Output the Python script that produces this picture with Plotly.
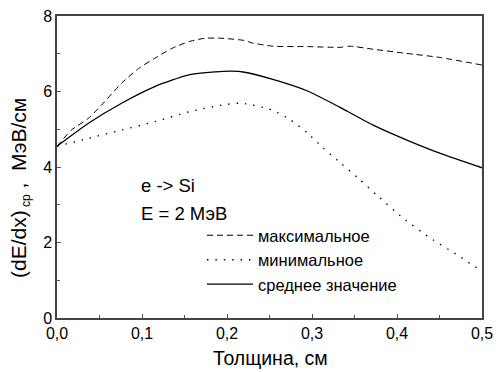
import plotly.graph_objects as go

# Data
x_max = [0.0, 0.017, 0.037, 0.056, 0.076, 0.096, 0.115, 0.135, 0.155, 0.174, 0.194, 0.221, 0.229, 0.254, 0.294, 0.333, 0.345, 0.372, 0.411, 0.451, 0.5]
y_max = [4.55, 4.98, 5.29, 5.73, 6.22, 6.61, 6.88, 7.14, 7.32, 7.41, 7.41, 7.35, 7.29, 7.2, 7.19, 7.17, 7.2, 7.12, 7.01, 6.9, 6.7]

x_min = [0.0, 0.037, 0.076, 0.115, 0.155, 0.194, 0.217, 0.253, 0.274, 0.294, 0.313, 0.335, 0.356, 0.376, 0.407, 0.439, 0.471, 0.489, 0.5]
y_min = [4.55, 4.76, 4.98, 5.2, 5.46, 5.64, 5.69, 5.51, 5.26, 4.91, 4.51, 4.08, 3.67, 3.26, 2.65, 2.12, 1.67, 1.4, 1.25]

x_avg = [0.0, 0.037, 0.076, 0.115, 0.155, 0.186, 0.205, 0.221, 0.254, 0.294, 0.333, 0.372, 0.411, 0.451, 0.5]
y_avg = [4.55, 5.16, 5.69, 6.13, 6.44, 6.52, 6.54, 6.51, 6.32, 6.02, 5.58, 5.11, 4.72, 4.36, 3.98]

names = ["максимальное", "минимальное", "среднее значение"]
x_ticks = [0.0, 0.1, 0.2, 0.3, 0.4, 0.5]
y_ticks = [0, 2, 4, 6, 8]

font = "Liberation Sans, Arial, sans-serif"

fig = go.Figure()
fig.add_trace(go.Scatter(x=x_max, y=y_max, mode="lines", name=names[0], line_shape="spline",
                         line=dict(color="black", width=1, dash="6px,4px", smoothing=0.6)))
fig.add_trace(go.Scatter(x=x_min, y=y_min, mode="lines", name=names[1], line_shape="spline",
                         line=dict(color="black", width=1.4, dash="1.4px,7px", smoothing=0.6)))
fig.add_trace(go.Scatter(x=x_avg, y=y_avg, mode="lines", name=names[2], line_shape="spline",
                         line=dict(color="black", width=1.3, smoothing=0.6)))

L, R, T, B = 57, 16, 16, 54
W, H = 498, 372
pw = W - L - R
ph = H - T - B

fig.update_layout(
    width=W, height=H,
    margin=dict(l=L, r=R, t=T, b=B, autoexpand=False),
    plot_bgcolor="white", paper_bgcolor="white",
    separators=", ",
    font=dict(family=font, size=16, color="black"),
    showlegend=True,
    legend=dict(x=(202 - L) / pw, y=(H - B - 218) / ph, xanchor="left", yanchor="top",
                bgcolor="rgba(0,0,0,0)", font=dict(size=16.5), tracegroupgap=0,
                itemwidth=46),
    xaxis=dict(range=[0, 0.5], tickvals=x_ticks, tickformat=".1f", automargin=False,
               ticks="inside", ticklen=4, tickcolor="#555",
               minor=dict(dtick=0.05, ticks="inside", ticklen=3, tickcolor="#555"),
               showline=True, linecolor="#444", linewidth=1.5, mirror=True,
               showgrid=False, zeroline=False),
    yaxis=dict(range=[0, 8], tickvals=y_ticks, automargin=False,
               ticks="inside", ticklen=4, tickcolor="#555",
               minor=dict(dtick=1, ticks="inside", ticklen=3, tickcolor="#555"),
               showline=True, linecolor="#444", linewidth=1.5, mirror=True,
               showgrid=False, zeroline=False),
    annotations=[
        dict(text="e -> Si", x=0.096, y=3.52, xref="x", yref="y", showarrow=False,
             xanchor="left", font=dict(size=18.5)),
        dict(text="E = 2 МэВ", x=0.096, y=2.78, xref="x", yref="y", showarrow=False,
             xanchor="left", font=dict(size=18.5)),
        dict(text="(dE/dx)<sub><span style='font-size:12px'> ср</span></sub> ,  МэВ/см",
             x=(20 - L) / pw, y=(H - B - 188) / ph, xref="paper", yref="paper",
             xanchor="center", yanchor="middle",
             showarrow=False, textangle=-90, font=dict(size=21)),
        dict(text="Толщина, см", x=(270 - L) / pw, y=(H - B - 358) / ph,
             xref="paper", yref="paper", xanchor="center", yanchor="middle",
             showarrow=False, font=dict(size=19.5)),
    ],
)

fig.write_html("out.html", config={"displayModeBar": False},
               post_script="document.body.style.margin='0';document.body.style.overflow='hidden';")
